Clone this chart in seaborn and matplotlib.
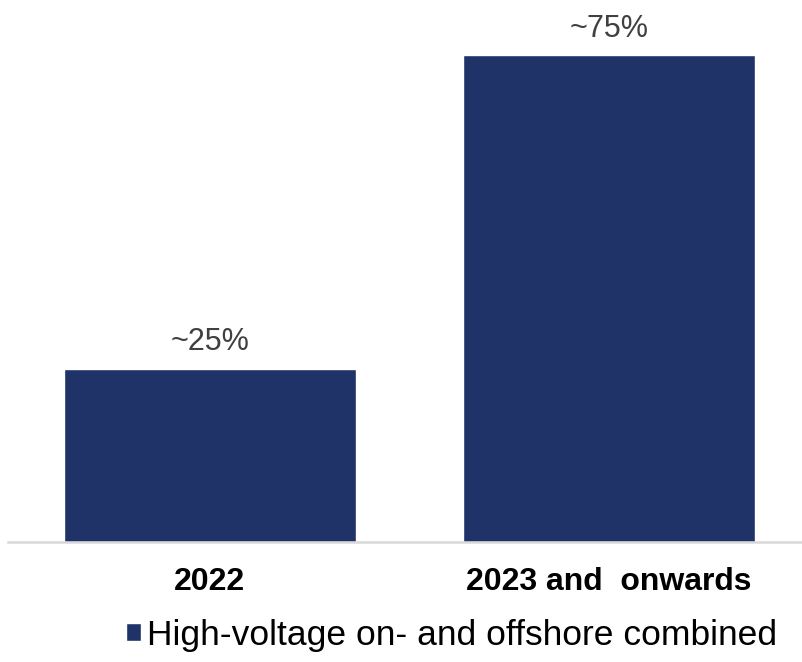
import pandas as pd
import matplotlib.pyplot as plt
import seaborn as sns

# Data
categories = ['2022', '2023 and  onwards']
share = [25, 70.3]          # bar heights as drawn
value_labels = ['~25%', '~75%']
series_name = 'High-voltage on- and offshore combined'

df = pd.DataFrame({'period': categories, 'share': share})

sns.set_style('white')
plt.rcParams['font.family'] = ['Liberation Sans', 'DejaVu Sans']

bar_color = '#1F3368'

fig = plt.figure(figsize=(8.02, 6.62), dpi=100)
ax = fig.add_axes([8 / 802, 120 / 662, 794 / 802, 542 / 662])

sns.barplot(data=df, x='period', y='share', color=bar_color, width=0.73,
            saturation=1, ax=ax, label=series_name)

ax.set_xlim(-0.506, 1.484)
ax.set_ylim(0, 78.3)

# value labels above bars
for i, (v, lab) in enumerate(zip(share, value_labels)):
    ax.annotate(lab, xy=(i, v), xytext=(0, 13.5), textcoords='offset points',
                ha='center', va='baseline', fontsize=22, color='#404040')

for s in ['top', 'right', 'left']:
    ax.spines[s].set_visible(False)
ax.spines['bottom'].set_color('#D9D9D9')
ax.spines['bottom'].set_linewidth(1.8)
ax.set_yticks([])
ax.set_xlabel('')
ax.set_ylabel('')
ax.tick_params(axis='x', length=0, pad=18)
for t in ax.get_xticklabels():
    t.set_fontsize(23)
    t.set_fontweight('bold')
    t.set_color('black')

if ax.get_legend():
    ax.get_legend().remove()
handles, labels = ax.get_legend_handles_labels()
leg = fig.legend(handles, labels, loc='center left', bbox_to_anchor=(126 / 802, 27 / 662),
                 frameon=False, fontsize=25.5, handlelength=0.43, handleheight=0.43,
                 handletextpad=0.15, borderpad=0, borderaxespad=0)
for t in leg.get_texts():
    t.set_color('black')

fig.savefig('out.png', dpi=100)
